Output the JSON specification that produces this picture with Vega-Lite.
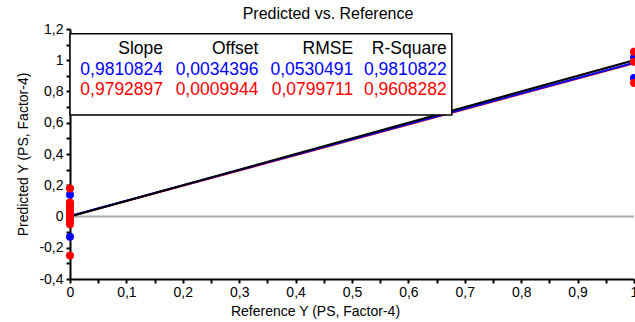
{
  "$schema": "https://vega.github.io/schema/vega-lite/v6.json",
  "width": 564,
  "height": 250,
  "autosize": {"type": "none"},
  "padding": {"left": 70, "top": 29, "right": 1, "bottom": 43},
  "background": "white",
  "config": {
    "font": "Liberation Sans",
    "view": {"stroke": null},
    "axis": {"grid": false, "labelOverlap": false, "domainColor": "black", "domainWidth": 2, "tickColor": "black", "tickWidth": 2, "labelColor": "black", "titleColor": "black", "labelFontSize": 14, "titleFontSize": 14, "titleFontWeight": "normal", "labelFont": "Liberation Sans", "titleFont": "Liberation Sans"}
  },
  "title": {"text": "Predicted vs. Reference", "fontSize": 16, "fontWeight": "normal", "color": "black", "dx": -24, "offset": 0},
  "encoding": {
    "x": {"field": "ref", "type": "quantitative", "scale": {"domain": [0, 1], "nice": false},
      "axis": {"values": [0,0.05,0.1,0.15,0.2,0.25,0.3,0.35,0.4,0.45,0.5,0.55,0.6,0.65,0.7,0.75,0.8,0.85,0.9,0.95,1], "tickSize": 4, "labelPadding": 2, "labelFlush": false, "labelOverlap": false,
        "labelExpr": "round(datum.value*20) % 2 == 0 ? replace(toString(round(datum.value*10)/10), '.', ',') : ''",
        "title": "Reference Y (PS, Factor-4)", "titleX": 245, "titlePadding": 5}},
    "y": {"field": "pred", "type": "quantitative", "scale": {"domain": [-0.4, 1.2], "nice": false},
      "axis": {"values": [-0.4,-0.3,-0.2,-0.1,0,0.1,0.2,0.3,0.4,0.5,0.6,0.7,0.8,0.9,1,1.1,1.2], "tickSize": 4, "labelPadding": 3, "labelFlush": false, "labelOverlap": false,
        "labelExpr": "round(datum.value*10) % 2 == 0 ? replace(toString(round(datum.value*10)/10), '.', ',') : ''",
        "title": "Predicted Y (PS, Factor-4)", "titlePadding": 8}}
  },
  "layer": [
    {
      "data": {"values": [{"ref": 0, "ref2": 1, "pred": 0}]},
      "mark": {"type": "rule", "color": "#aaaaaa", "strokeWidth": 2},
      "encoding": {
        "x2": {"field": "ref2"}
      }
    },
    {
      "data": {"values": [
        {"set": "Set B", "ref": 0, "pred": 0.001},
        {"set": "Set B", "ref": 1, "pred": 0.9803},
        {"set": "Set A", "ref": 0, "pred": 0.0034},
        {"set": "Set A", "ref": 1, "pred": 0.9845},
        {"set": "Ideal", "ref": 0, "pred": 0},
        {"set": "Ideal", "ref": 1, "pred": 1}
      ]},
      "mark": {"type": "line", "strokeWidth": 2},
      "encoding": {
        "color": {"field": "set", "type": "nominal", "scale": {"domain": ["Set A", "Set B", "Ideal", "Header"], "range": ["#0000ff", "#ff0000", "#000000", "#000000"]}, "legend": null}
      }
    },
    {
      "data": {"values": [
        {"set": "Set A", "ref": 0, "pred": 0.14},
        {"set": "Set A", "ref": 0, "pred": 0.05},
        {"set": "Set A", "ref": 0, "pred": 0.03},
        {"set": "Set A", "ref": 0, "pred": 0.0},
        {"set": "Set A", "ref": 0, "pred": -0.03},
        {"set": "Set A", "ref": 0, "pred": -0.13},
        {"set": "Set A", "ref": 1, "pred": 1.02},
        {"set": "Set A", "ref": 1, "pred": 0.886},
        {"set": "Set B", "ref": 0, "pred": 0.18},
        {"set": "Set B", "ref": 0, "pred": 0.09},
        {"set": "Set B", "ref": 0, "pred": 0.075},
        {"set": "Set B", "ref": 0, "pred": 0.06},
        {"set": "Set B", "ref": 0, "pred": 0.04},
        {"set": "Set B", "ref": 0, "pred": 0.02},
        {"set": "Set B", "ref": 0, "pred": 0.0},
        {"set": "Set B", "ref": 0, "pred": -0.015},
        {"set": "Set B", "ref": 0, "pred": -0.03},
        {"set": "Set B", "ref": 0, "pred": -0.05},
        {"set": "Set B", "ref": 0, "pred": -0.25},
        {"set": "Set B", "ref": 1, "pred": 1.055},
        {"set": "Set B", "ref": 1, "pred": 0.99},
        {"set": "Set B", "ref": 1, "pred": 0.855}
      ]},
      "mark": {"type": "circle", "size": 64, "opacity": 1},
      "encoding": {
        "color": {"field": "set", "type": "nominal", "legend": null}
      }
    },
    {
      "data": {"values": [{"ref": 0, "ref2": 0.677, "pred": 1.17, "pred2": 0.65}]},
      "mark": {"type": "rect", "fill": "white", "stroke": "black", "strokeWidth": 1.5},
      "encoding": {
        "x2": {"field": "ref2"},
        "y2": {"field": "pred2"}
      }
    },
    {
      "data": {"values": [
        {"set": "Header", "label": "Slope", "ref": 0.165, "pred": 1.072},
        {"set": "Header", "label": "Offset", "ref": 0.334, "pred": 1.072},
        {"set": "Header", "label": "RMSE", "ref": 0.502, "pred": 1.072},
        {"set": "Header", "label": "R-Square", "ref": 0.668, "pred": 1.072},
        {"set": "Set A", "label": "0,9810824", "ref": 0.165, "pred": 0.94},
        {"set": "Set A", "label": "0,0034396", "ref": 0.334, "pred": 0.94},
        {"set": "Set A", "label": "0,0530491", "ref": 0.502, "pred": 0.94},
        {"set": "Set A", "label": "0,9810822", "ref": 0.668, "pred": 0.94},
        {"set": "Set B", "label": "0,9792897", "ref": 0.165, "pred": 0.808},
        {"set": "Set B", "label": "0,0009944", "ref": 0.334, "pred": 0.808},
        {"set": "Set B", "label": "0,0799711", "ref": 0.502, "pred": 0.808},
        {"set": "Set B", "label": "0,9608282", "ref": 0.668, "pred": 0.808}
      ]},
      "mark": {"type": "text", "align": "right", "baseline": "middle", "fontSize": 17.5, "font": "Liberation Sans"},
      "encoding": {
        "text": {"field": "label"},
        "color": {"field": "set", "type": "nominal", "legend": null}
      }
    }
  ]
}
